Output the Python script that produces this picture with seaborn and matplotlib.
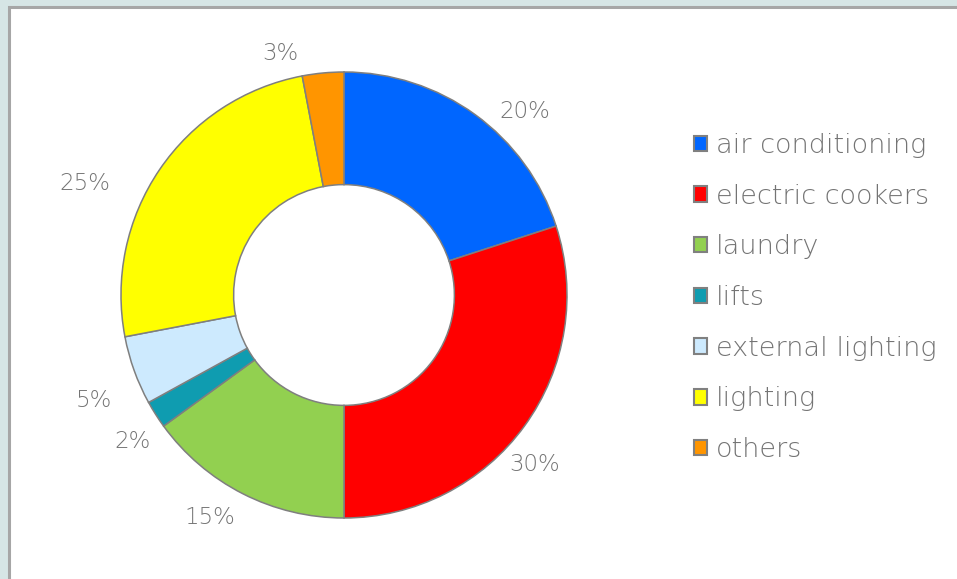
import matplotlib
matplotlib.use("Agg")
import matplotlib.pyplot as plt
from matplotlib.patches import Rectangle, Patch
import seaborn as sns

# Energy use breakdown by end use (%)
categories = ["air conditioning", "electric cookers", "laundry", "lifts",
              "external lighting", "lighting", "others"]
shares = [20, 30, 15, 2, 5, 25, 3]
colors = ["#0066ff", "#ff0000", "#92d050", "#0f9cb0",
          "#cdeafe", "#ffff00", "#ff9500"]

# label anchor points (data units of the donut axes, radius 1 = outer edge)
label_xy = [(0.812, 0.821), (0.857, -0.762), (-0.601, -0.996),
            (-0.946, -0.659), (-1.121, -0.471), (-1.161, 0.502),
            (-0.287, 1.085)]

sns.set_theme(style="white")
plt.rcParams["font.family"] = ["DejaVu Sans"]
text_color = "#747474"
edge_color = "#7f7f7f"

W, H = 957, 579
fig = plt.figure(figsize=(W / 100, H / 100), dpi=100)
fig.patch.set_facecolor("#d6e5e5")

# white chart panel with grey frame
panel = Rectangle((9 / W, -0.05), 1.1, (H - 7) / H + 0.05,
                  transform=fig.transFigure, facecolor="white",
                  edgecolor="#a6a6a6", linewidth=2.2, zorder=-10)
fig.patches.append(panel)

# square axes centred on the donut
cx, cy, R = 344, 295, 223
half = 300
ax = fig.add_axes([(cx - half) / W, (H - cy - half) / H, 2 * half / W, 2 * half / H])
ax.set_zorder(5)
ax.patch.set_visible(False)
lim = half / R
ax.axis("off")

wedges, _ = ax.pie(shares, colors=colors, startangle=90, counterclock=False,
                   radius=1.0,
                   wedgeprops=dict(width=0.505, edgecolor=edge_color, linewidth=1.1))
ax.set_xlim(-lim, lim)
ax.set_ylim(-lim, lim)
ax.set_aspect("equal")

for val, (x, y) in zip(shares, label_xy):
    ax.text(x, y, f"{val}%", ha="center", va="center", fontsize=16.5,
            color=text_color, fontweight="light")

handles = [Patch(facecolor=c, edgecolor="#808080", linewidth=1.5) for c in colors]
leg = fig.legend(handles, categories, loc="upper left",
                 bbox_to_anchor=(683 / W, 1 - 122 / H), frameon=False,
                 prop=dict(size=19.5, weight="light"),
                 handlelength=0.5, handleheight=0.5,
                 handletextpad=0.3, labelspacing=0.95, borderaxespad=0)
for t in leg.get_texts():
    t.set_color(text_color)

fig.savefig("out.png", dpi=100)
